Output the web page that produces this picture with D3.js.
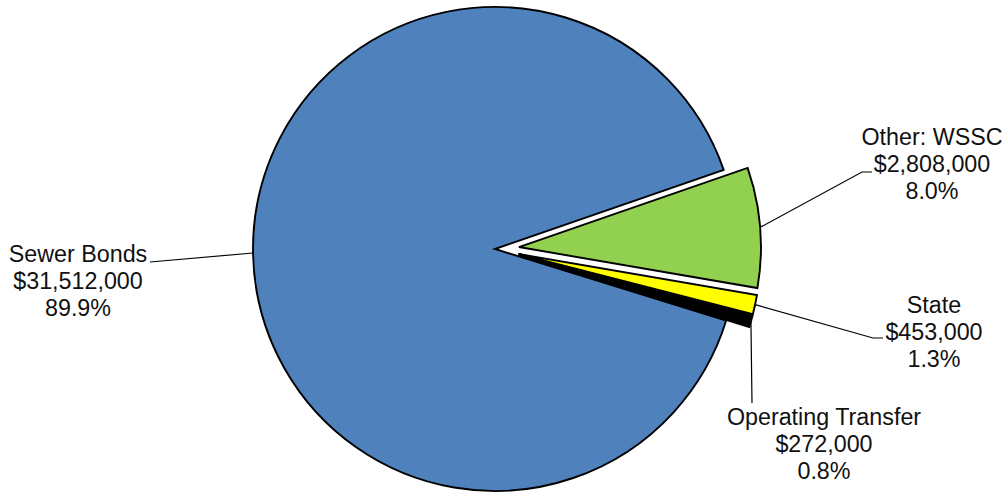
<!DOCTYPE html>
<html>
<head>
<meta charset="utf-8">
<script src="https://cdn.jsdelivr.net/npm/d3@7"></script>
<style>
  body { margin: 0; background: #fff; }
  svg { display: block; }
  .lbl { font-family: "Liberation Sans", Arial, sans-serif; font-size: 23.3px; fill: #111; }
</style>
</head>
<body>
<div id="chart"></div>
<script>
// pie data
var categories = ["Sewer Bonds", "Other: WSSC", "State", "Operating Transfer"];
var amounts = [31512000, 2808000, 453000, 272000];
var colors = ["#4f81bd", "#92d050", "#ffff00", "#000000"];
var exploded = [false, true, true, true];

// label layout: text centre + leader line bends (after the slice edge point)
var labelPos = [
  { x: 78, y: 254, leader: [[150, 262]] },
  { x: 932, y: 137, leader: [[862, 172], [872, 172]] },
  { x: 934, y: 305, leader: [[873, 338], [883, 338]] },
  { x: 824, y: 417, leader: [[752, 403]] }
];

var width = 1006, height = 496;
var cx = 495, cy = 249, radius = 242, explode = 24;

var svg = d3.select("#chart").append("svg")
  .attr("width", width).attr("height", height);

var total = d3.sum(amounts);
var fmtMoney = function(v) { return "$" + d3.format(",")(v); };
var fmtPct = d3.format(".1%");

var pie = d3.pie().sort(null)
  .startAngle(107.2 * Math.PI / 180)
  .endAngle(107.2 * Math.PI / 180 + 2 * Math.PI);
var arcs = pie(amounts);

var arc = d3.arc().innerRadius(0).outerRadius(radius);

function offset(d, i) {
  if (!exploded[i]) return [0, 0];
  var a = (d.startAngle + d.endAngle) / 2;
  return [explode * Math.sin(a), -explode * Math.cos(a)];
}

var g = svg.append("g").attr("transform", "translate(" + cx + "," + cy + ")");

g.selectAll(".slice")
  .data(arcs)
  .enter().append("path")
  .attr("class", "slice")
  .attr("transform", function(d, i) { var o = offset(d, i); return "translate(" + o[0] + "," + o[1] + ")"; })
  .attr("d", arc)
  .attr("fill", function(d, i) { return colors[i]; })
  .attr("stroke", "#000")
  .attr("stroke-width", 1.9)
  .attr("stroke-linejoin", "miter");

// leader lines
var line = d3.line();
svg.selectAll(".leader")
  .data(arcs)
  .enter().append("path")
  .attr("class", "leader")
  .attr("d", function(d, i) {
    var o = offset(d, i);
    var a = (d.startAngle + d.endAngle) / 2;
    var start = [cx + o[0] + radius * Math.sin(a), cy + o[1] - radius * Math.cos(a)];
    return line([start].concat(labelPos[i].leader));
  })
  .attr("fill", "none")
  .attr("stroke", "#000")
  .attr("stroke-width", 1.2);

// labels
var labels = svg.selectAll(".lbl")
  .data(arcs)
  .enter().append("text")
  .attr("class", "lbl")
  .attr("text-anchor", "middle");

labels.each(function(d, i) {
  var t = d3.select(this);
  var lines = [categories[i], fmtMoney(amounts[i]), fmtPct(amounts[i] / total)];
  lines.forEach(function(s, k) {
    t.append("tspan")
      .attr("x", labelPos[i].x)
      .attr("y", labelPos[i].y + k * 27)
      .attr("dy", "0.36em")
      .text(s);
  });
});
</script>
</body>
</html>
